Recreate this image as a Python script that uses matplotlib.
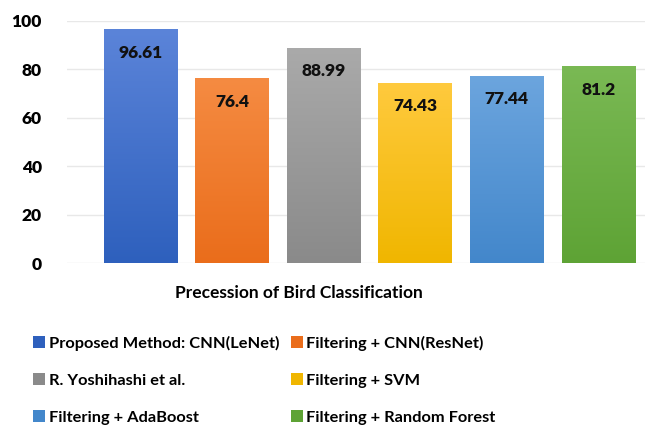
import matplotlib
matplotlib.use("Agg")
import matplotlib.pyplot as plt
import numpy as np
from matplotlib.colors import LinearSegmentedColormap
from matplotlib.patches import Patch

plt.rcParams["font.family"] = ["Lato", "DejaVu Sans"]

methods = [
    "Proposed Method: CNN(LeNet)",
    "Filtering + CNN(ResNet)",
    "R. Yoshihashi et al.",
    "Filtering + SVM",
    "Filtering + AdaBoost",
    "Filtering + Random Forest",
]
precision = [96.61, 76.4, 88.99, 74.43, 77.44, 81.2]
value_labels = ["96.61", "76.4", "88.99", "74.43", "77.44", "81.2"]
yticks = [0, 20, 40, 60, 80, 100]

# (top, bottom) shades for the vertical gradient of each bar
shades = [
    ("#5b84d9", "#2e60bd"),
    ("#f58b42", "#ea6d1b"),
    ("#aaaaaa", "#8a8a8a"),
    ("#ffca3e", "#f0b600"),
    ("#6ca5de", "#4387cb"),
    ("#7ab954", "#5ea335"),
]
legend_colors = [bottom for _, bottom in shades]

fig = plt.figure(figsize=(6.45, 4.25), dpi=100)
ax = fig.add_axes([67 / 645, 1 - 263 / 425, 1 - 67 / 645, 242 / 425])

x = np.arange(len(precision))
bars = ax.bar(x, precision, width=0.8, color=legend_colors, zorder=2)

grad = np.linspace(0, 1, 256).reshape(-1, 1)
for bar, (top, bottom) in zip(bars, shades):
    cmap = LinearSegmentedColormap.from_list("g", [bottom, top])
    bx, by = bar.get_x(), bar.get_y()
    w, h = bar.get_width(), bar.get_height()
    im = ax.imshow(grad, cmap=cmap, aspect="auto", origin="lower",
                   extent=(bx, bx + w, by, by + h), zorder=3)
    im.set_clip_path(bar)

for xi, v, lab in zip(x, precision, value_labels):
    ax.annotate(lab, (xi, v), xytext=(0, -17), textcoords="offset points",
                ha="center", va="center", fontsize=12.5, fontweight="heavy",
                color="#111111", zorder=4)

ax.set_xlim(-0.80, 5.51)
ax.set_ylim(0, 100)
ax.set_yticks(yticks)
ax.set_yticklabels([str(t) for t in yticks], fontsize=12.5, fontweight="heavy")
ax.set_xticks([])
ax.tick_params(axis="y", length=0, pad=18)
ax.grid(axis="y", color="#e8e8e8", linewidth=1, zorder=0)
for s in ax.spines.values():
    s.set_visible(False)

fig.text(299 / 645, 1 - 293 / 425, "Precession of Bird Classification",
         ha="center", va="center", fontsize=12.5, fontweight="bold")

# legend laid out row by row (matplotlib fills columns first)
handles = [Patch(facecolor=c) for c in legend_colors]
order = [0, 2, 4, 1, 3, 5]
fig.legend([handles[i] for i in order], [methods[i] for i in order],
           ncol=2, loc="upper left", bbox_to_anchor=(33 / 645, 1 - 336 / 425),
           frameon=False, prop={"size": 11.8, "weight": "bold"},
           borderpad=0, borderaxespad=0,
           handlelength=0.75, handleheight=0.75, handletextpad=0.2,
           labelspacing=1.35, columnspacing=0.7)

fig.savefig("out.png", dpi=100)
